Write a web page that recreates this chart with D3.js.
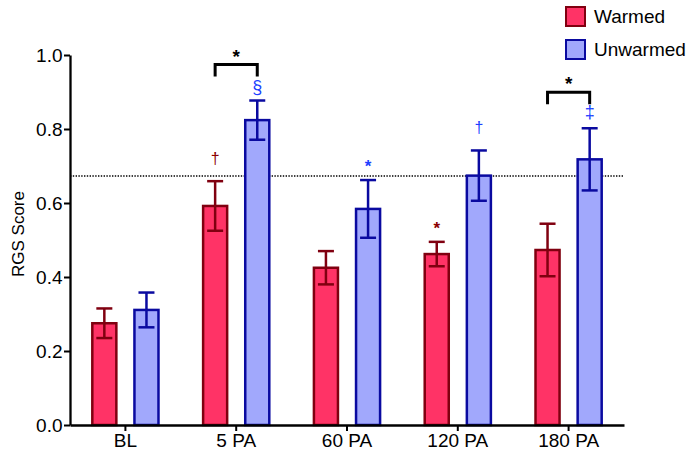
<!DOCTYPE html>
<html>
<head>
<meta charset="utf-8">
<script src="https://cdn.jsdelivr.net/npm/d3@7"></script>
<style>
  body { margin: 0; background: #fff; }
  svg { font-family: "Liberation Sans", Arial, sans-serif; }
</style>
</head>
<body>
<div id="viz"></div>
<script>
const timepoints = ['BL', '5 PA', '60 PA', '120 PA', '180 PA'];
const seriesKeys = ['Warmed', 'Unwarmed'];
const warmedMean = [0.275, 0.592, 0.425, 0.462, 0.473];
const warmedErr = [0.040, 0.067, 0.045, 0.033, 0.071];
const unwarmedMean = [0.311, 0.824, 0.584, 0.674, 0.718];
const unwarmedErr = [0.047, 0.053, 0.078, 0.068, 0.084];
const yTicks = [0, 0.2, 0.4, 0.6, 0.8, 1.0];
const thresholdValue = 0.673;
// symbols over single bars
const marks = [
  { point: '5 PA', series: 'Warmed', symbol: '†' },
  { point: '5 PA', series: 'Unwarmed', symbol: '§' },
  { point: '60 PA', series: 'Unwarmed', symbol: '*' },
  { point: '120 PA', series: 'Warmed', symbol: '*' },
  { point: '120 PA', series: 'Unwarmed', symbol: '†' },
  { point: '180 PA', series: 'Unwarmed', symbol: '‡' },
];
// warmed vs unwarmed comparisons
const brackets = ['5 PA', '180 PA'];

const colors = {
  Warmed: { fill: '#FF3366', stroke: '#800010', mark: '#8B0000' },
  Unwarmed: { fill: '#A1A8FC', stroke: '#0A0AA0', mark: '#2040FF' },
};

const width = 700;
const height = 458;
const margin = { top: 55, right: 76, bottom: 33, left: 70 };

const data = timepoints.map((t, i) => ({
  point: t,
  values: [
    { series: 'Warmed', mean: warmedMean[i], err: warmedErr[i] },
    { series: 'Unwarmed', mean: unwarmedMean[i], err: unwarmedErr[i] },
  ],
}));

const svg = d3.select('#viz').append('svg')
  .attr('width', width)
  .attr('height', height);

const x0 = d3.scaleBand().domain(timepoints).range([margin.left, width - margin.right]);
const x1 = d3.scaleBand().domain(seriesKeys).range([0, x0.bandwidth()])
  .paddingInner(0.37).paddingOuter(0.5);
const y = d3.scaleLinear().domain([0, 1]).range([height - margin.bottom, margin.top]);

// dotted reference line
svg.append('line')
  .attr('x1', margin.left).attr('x2', width - margin.right)
  .attr('y1', y(thresholdValue)).attr('y2', y(thresholdValue))
  .attr('stroke', '#000').attr('stroke-width', 1.6)
  .attr('stroke-dasharray', '1.4,1.4');

const groups = svg.append('g').selectAll('g')
  .data(data).join('g')
  .attr('transform', d => `translate(${x0(d.point)},0)`);

groups.selectAll('rect')
  .data(d => d.values).join('rect')
  .attr('x', d => x1(d.series) + 1.25)
  .attr('width', x1.bandwidth() - 2.5)
  .attr('y', d => y(d.mean))
  .attr('height', d => y(0) - y(d.mean))
  .attr('fill', d => colors[d.series].fill)
  .attr('stroke', d => colors[d.series].stroke)
  .attr('stroke-width', 2.5);

const errG = groups.selectAll('g.err')
  .data(d => d.values).join('g')
  .attr('class', 'err')
  .attr('stroke', d => colors[d.series].stroke)
  .attr('stroke-width', 2.5);

const cx = d => x1(d.series) + x1.bandwidth() / 2;
errG.append('line')
  .attr('x1', cx).attr('x2', cx)
  .attr('y1', d => y(d.mean - d.err)).attr('y2', d => y(d.mean + d.err));
errG.append('line')
  .attr('x1', d => cx(d) - 8).attr('x2', d => cx(d) + 8)
  .attr('y1', d => y(d.mean + d.err)).attr('y2', d => y(d.mean + d.err));
errG.append('line')
  .attr('x1', d => cx(d) - 8).attr('x2', d => cx(d) + 8)
  .attr('y1', d => y(d.mean - d.err)).attr('y2', d => y(d.mean - d.err));

// axes
const yAxis = d3.axisLeft(y).tickValues(yTicks).tickFormat(d3.format('.1f'))
  .tickSize(6).tickPadding(1.5).tickSizeOuter(0);
const xAxis = d3.axisBottom(x0).tickSize(6).tickSizeOuter(0);

const gy = svg.append('g').attr('transform', `translate(${margin.left},0)`).call(yAxis);
const gx = svg.append('g').attr('transform', `translate(0,${height - margin.bottom})`).call(xAxis);
[gx, gy].forEach(g => {
  g.select('.domain').attr('stroke-width', 2.3);
  g.selectAll('.tick line').attr('stroke-width', 2);
  g.selectAll('text').attr('font-size', 19).attr('fill', '#000')
    .attr('font-family', '"Liberation Sans", Arial, sans-serif');
});

svg.append('text')
  .attr('transform', `translate(24,${y(0.5) - 6}) rotate(-90)`)
  .attr('text-anchor', 'middle')
  .attr('font-size', 17)
  .text('RGS Score');

// single-bar symbols
const symbolStyle = {
  '†': { size: 16, lift: 17 },
  '§': { size: 18, lift: 8 },
  '‡': { size: 18, lift: 10 },
  '*': { size: 17, lift: 8 },
};
const lookup = (p, s) => data.find(d => d.point === p).values.find(v => v.series === s);
svg.append('g').selectAll('text')
  .data(marks).join('text')
  .attr('x', d => x0(d.point) + x1(d.series) + x1.bandwidth() / 2)
  .attr('y', d => {
    const v = lookup(d.point, d.series);
    return y(v.mean + v.err) - symbolStyle[d.symbol].lift;
  })
  .attr('text-anchor', 'middle')
  .attr('font-size', d => symbolStyle[d.symbol].size)
  .attr('fill', d => colors[d.series].mark)
  .text(d => d.symbol)
  .filter(d => d.symbol === '*')
  .attr('font-weight', 'bold');

// comparison brackets
const br = svg.append('g').selectAll('g').data(brackets).join('g');
br.append('path')
  .attr('fill', 'none').attr('stroke', '#000').attr('stroke-width', 3)
  .attr('d', p => {
    const u = lookup(p, 'Unwarmed');
    const top = y(u.mean + u.err) - 36;
    const xa = x0(p) + x1('Warmed') + x1.bandwidth() / 2;
    const xb = x0(p) + x1('Unwarmed') + x1.bandwidth() / 2;
    return `M${xa},${top + 12}V${top}H${xb}V${top + 12}`;
  });
br.append('text')
  .attr('x', p => x0(p) + x0.bandwidth() / 2)
  .attr('y', p => {
    const u = lookup(p, 'Unwarmed');
    return y(u.mean + u.err) - 36 - 2;
  })
  .attr('text-anchor', 'middle')
  .attr('font-size', 19).attr('font-weight', 'bold')
  .text('*');

// legend
const legend = svg.append('g').attr('transform', 'translate(566,7)')
  .selectAll('g').data(seriesKeys).join('g')
  .attr('transform', (d, i) => `translate(0,${i * 33})`);
legend.append('rect')
  .attr('width', 19).attr('height', 19)
  .attr('fill', d => colors[d].fill)
  .attr('stroke', d => colors[d].stroke).attr('stroke-width', 2);
legend.append('text')
  .attr('x', 28).attr('y', 16)
  .attr('font-size', 19)
  .text(d => d);
</script>
</body>
</html>
